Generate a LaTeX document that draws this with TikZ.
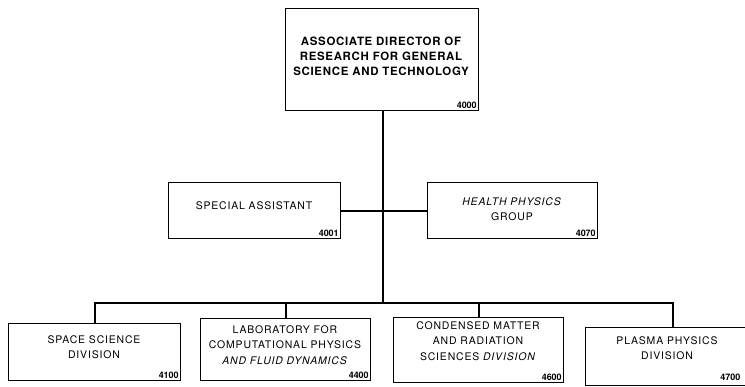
\documentclass[tikz,border=0pt]{standalone}
\usepackage{fontspec}
\setmainfont{TeX Gyre Heros}
\newfontfamily\lblfont[LetterSpace=8]{TeX Gyre Heros}
\newfontfamily\topfont[LetterSpace=6]{TeX Gyre Heros}
\begin{document}
\begin{tikzpicture}[x=1bp,y=-1bp,
  box/.style={draw, line width=1.4bp, anchor=north west, inner sep=0pt, align=center},
  num/.style={anchor=south east, inner sep=2.5bp, font=\fontsize{9}{10}\selectfont\bfseries},
  lbl/.style={align=center, inner sep=0pt, font=\lblfont\fontsize{10.5}{15.5}\selectfont},
  conn/.style={line width=2.4bp}]
\useasboundingbox (0,0) rectangle (745,386);
\clip (0,0) rectangle (745,386);
% boxes
\node[box, minimum width=193bp, minimum height=102bp] (top) at (285,8) {};
\node[box, minimum width=172bp, minimum height=56bp] (spec) at (168,182) {};
\node[box, minimum width=170bp, minimum height=56bp] (health) at (427,182) {};
\node[box, minimum width=172bp, minimum height=57bp] (space) at (8,323) {};
\node[box, minimum width=170bp, minimum height=62bp] (lab) at (200,318) {};
\node[box, minimum width=170bp, minimum height=65bp] (cond) at (393,317) {};
\node[box, minimum width=175bp, minimum height=58bp] (plasma) at (585,327) {};
% texts
\node[lbl, font=\topfont\fontsize{11.5}{15}\selectfont\bfseries] (ttop) at (381,56) {ASSOCIATE DIRECTOR OF\\RESEARCH FOR GENERAL\\SCIENCE AND TECHNOLOGY};
\node[lbl] (tspec) at (254,206) {SPECIAL ASSISTANT};
\node[lbl] (thealth) at (512,209) {\textit{HEALTH PHYSICS}\\GROUP};
\node[lbl] (tspace) at (94,347) {SPACE SCIENCE\\DIVISION};
\node[lbl] (tlab) at (285,345) {LABORATORY FOR\\COMPUTATIONAL PHYSICS\\\textit{AND FLUID DYNAMICS}};
\node[lbl] (tcond) at (478,341) {CONDENSED MATTER\\AND RADIATION\\SCIENCES \textit{DIVISION}};
\node[lbl] (tplasma) at (667,348) {PLASMA PHYSICS\\DIVISION};
% numbers
\node[num] (ntop) at (top.south east) {4000};
\node[num] (nspec) at (spec.south east) {4001};
\node[num] (nhealth) at (health.south east) {4070};
\node[num] (nspace) at (space.south east) {4100};
\node[num] (nlab) at (lab.south east) {4400};
\node[num] (ncond) at (cond.south east) {4600};
\node[num, anchor=south east] (nplasma) at (743,383) {4700};
% connectors
\coordinate (bus) at (383,303);
\draw[conn] (top.south -| bus) -- (bus);
\draw[conn] (spec.east) -- (health.west);
\draw[conn] (space.north) |- (bus) -| (plasma.north);
\draw[conn] (lab.north) -- (lab.north |- bus);
\draw[conn] (cond.north) -- (cond.north |- bus);
\end{tikzpicture}
\end{document}
